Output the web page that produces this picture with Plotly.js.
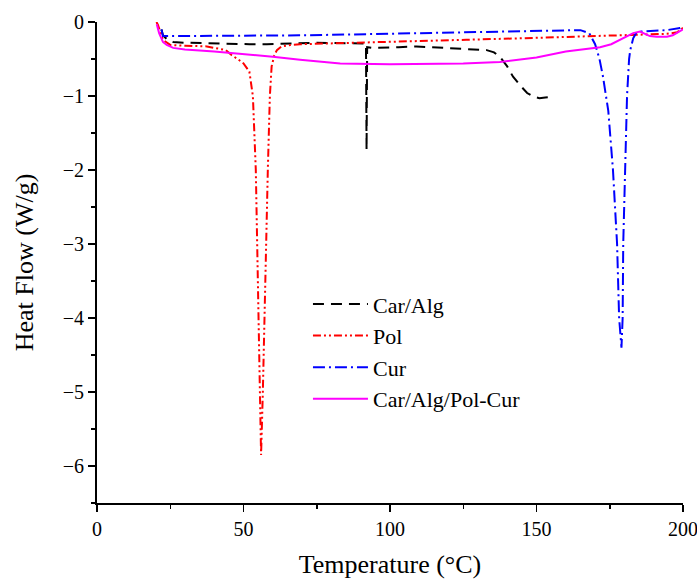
<!DOCTYPE html>
<html>
<head>
<meta charset="utf-8">
<script src="https://cdn.plot.ly/plotly-3.0.1.min.js"></script>
<style>html,body{margin:0;padding:0;background:#fff;}#chart{width:697px;height:579px;}</style>
</head>
<body>
<div id="chart"></div>
<script>
// Car/Alg
const carAlgX = [22.0, 22.5, 24, 26, 30, 37.5, 45, 52, 58, 62, 67, 75, 85, 90, 91.8, 92.0, 92.2, 94, 96.6, 103, 109, 115, 120, 127, 133, 135.5, 137.5, 140, 142, 144.5, 146.8, 149, 151, 153, 155.6];
const carAlgY = [-0.1, -0.18, -0.24, -0.27, -0.28, -0.29, -0.29, -0.3, -0.3, -0.3, -0.29, -0.28, -0.28, -0.28, -0.29, -1.73, -0.34, -0.35, -0.35, -0.34, -0.33, -0.34, -0.35, -0.36, -0.38, -0.41, -0.47, -0.6, -0.74, -0.86, -0.96, -1.01, -1.03, -1.02, -1.01];
// Pol
const polX = [20.3, 20.8, 22.5, 25, 30, 37.5, 44, 46, 48, 50, 52, 53.2, 54.2, 55.0, 55.6, 56.0, 56.6, 57.4, 58.3, 59.0, 59.6, 60.5, 61.4, 63, 66, 69.3, 80, 92, 110, 126, 145, 160, 175, 183, 190, 194.5, 198, 200];
const polY = [0, -0.04, -0.24, -0.31, -0.32, -0.33, -0.38, -0.45, -0.5, -0.56, -0.67, -1.0, -2.0, -3.5, -5.0, -5.85, -5.0, -3.5, -2.0, -1.0, -0.6, -0.45, -0.38, -0.33, -0.31, -0.3, -0.29, -0.28, -0.26, -0.24, -0.22, -0.2, -0.18, -0.17, -0.17, -0.16, -0.14, -0.08];
// Cur
const curX = [22.0, 22.5, 25, 30, 40, 55, 69, 85, 100, 115, 130, 150, 160, 165, 168, 170, 171.5, 172.7, 174.5, 176.1, 177.5, 178.2, 179.0, 179.4, 179.6, 180.2, 180.9, 181.6, 182, 183, 184, 185, 189, 194.5, 199, 200];
const curY = [-0.1, -0.19, -0.19, -0.19, -0.19, -0.18, -0.18, -0.17, -0.16, -0.15, -0.14, -0.12, -0.11, -0.11, -0.15, -0.3, -0.5, -0.74, -1.2, -2.0, -3.0, -4.0, -4.4, -4.0, -3.0, -2.0, -1.0, -0.5, -0.38, -0.22, -0.15, -0.13, -0.12, -0.11, -0.08, -0.06];
// Car/Alg/Pol-Cur
const mixX = [20.4, 21.2, 22.5, 23.8, 26, 30, 40, 50, 60, 69.3, 83, 100, 114.7, 125, 137.5, 150, 160, 166, 171.7, 175.5, 178.5, 181, 183, 185.3, 187, 188.7, 191, 194.5, 196.5, 198, 200];
const mixY = [-0.03, -0.15, -0.27, -0.31, -0.35, -0.37, -0.4, -0.43, -0.47, -0.51, -0.56, -0.57, -0.57, -0.56, -0.54, -0.48, -0.4, -0.37, -0.34, -0.3, -0.24, -0.19, -0.15, -0.13, -0.16, -0.19, -0.2, -0.2, -0.18, -0.15, -0.1];

const seriesNames = ["Car/Alg", "Pol", "Cur", "Car/Alg/Pol-Cur"];

const traces = [
  {x: carAlgX, y: carAlgY, name: seriesNames[0], mode: "lines",
   line: {color: "#000000", width: 2, dash: "11px,7px"}},
  {x: polX, y: polY, name: seriesNames[1], mode: "lines",
   line: {color: "#ff0000", width: 2, dash: "8px,3px,2px,3px,2px,3px"}},
  {x: curX, y: curY, name: seriesNames[2], mode: "lines",
   line: {color: "#0000ff", width: 2, dash: "12px,4px,2px,4px"}},
  {x: mixX, y: mixY, name: seriesNames[3], mode: "lines",
   line: {color: "#ff00ff", width: 2}}
];

const fontFam = "Liberation Serif, Times New Roman, serif";

const layout = {
  width: 697, height: 579,
  margin: {l: 97, r: 14, t: 22, b: 76, pad: 0},
  paper_bgcolor: "#ffffff", plot_bgcolor: "#ffffff",
  font: {family: fontFam, color: "#000000", size: 20},
  showlegend: true,
  legend: {x: 0.36, y: 0.457, xanchor: "left", yanchor: "top",
    bgcolor: "rgba(0,0,0,0)", font: {family: fontFam, size: 22, color: "#000"},
    itemwidth: 55, tracegroupgap: 0},
  xaxis: {
    range: [0, 200], tick0: 0, dtick: 50, ticks: "outside", ticklen: 7, tickwidth: 1.5,
    tickcolor: "#000", showline: true, linecolor: "#000", linewidth: 2,
    showgrid: false, zeroline: false, ticklabeloverflow: "allow",
    minor: {dtick: 25, ticks: "outside", ticklen: 4, tickwidth: 1.5, tickcolor: "#000", showgrid: false},
    tickfont: {family: fontFam, size: 20, color: "#000"},
    title: {text: "Temperature (°C)", font: {family: fontFam, size: 26, color: "#000"}, standoff: 20}
  },
  yaxis: {
    range: [-6.5, 0], tick0: 0, dtick: 1, ticks: "outside", ticklen: 7, tickwidth: 1.5,
    tickcolor: "#000", showline: true, linecolor: "#000", linewidth: 2,
    showgrid: false, zeroline: false, ticklabeloverflow: "allow",
    minor: {dtick: 0.5, ticks: "outside", ticklen: 4, tickwidth: 1.5, tickcolor: "#000", showgrid: false},
    tickfont: {family: fontFam, size: 20, color: "#000"},
    title: {text: "Heat Flow (W/g)", font: {family: fontFam, size: 26, color: "#000"}, standoff: 22}
  }
};

Plotly.newPlot("chart", traces, layout, {staticPlot: true, displayModeBar: false});
</script>
</body>
</html>
